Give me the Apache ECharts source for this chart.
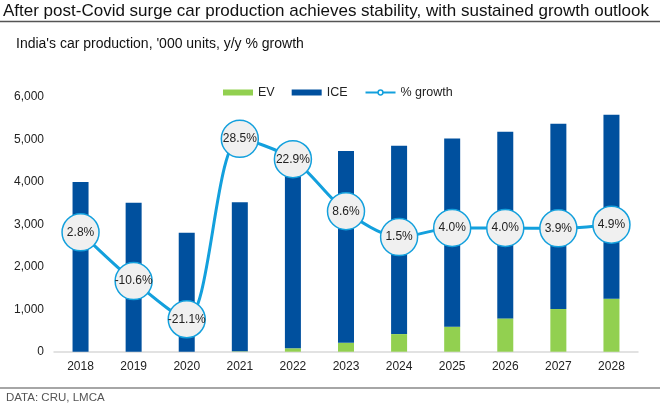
<!DOCTYPE html>
<html>
<head>
<meta charset="utf-8">
<script src="https://cdn.jsdelivr.net/npm/echarts@6/dist/echarts.min.js"></script>
<style>
html,body{margin:0;padding:0;background:#fff;}
#c{width:660px;height:406px;}
</style>
</head>
<body>
<div id="c"></div>
<script>
var years = ['2018','2019','2020','2021','2022','2023','2024','2025','2026','2027','2028'];
var evValues = [0, 0, 0, 10, 80, 210, 415, 590, 785, 1005, 1250];
var iceValues = [4000, 3510, 2800, 3510, 4250, 4520, 4435, 4430, 4395, 4365, 4330];
var growthValues = [2.8, -10.6, -21.1, 28.5, 22.9, 8.6, 1.5, 4.0, 4.0, 3.9, 4.9];
var yTicks = [0, 1000, 2000, 3000, 4000, 5000, 6000];

var FONT = 'Liberation Sans, Arial, sans-serif';
var chart = echarts.init(document.getElementById('c'));
chart.setOption({
  animation: false,
  backgroundColor: '#fff',
  textStyle: {fontFamily: FONT},
  title: [
    {text: 'After post-Covid surge car production achieves stability, with sustained growth outlook',
     left: 3, top: 3, padding: 0, textStyle: {fontFamily: FONT, fontSize: 17, fontWeight: 'normal', color: '#111'}},
    {text: "India's car production, '000 units, y/y % growth",
     left: 16, top: 37, padding: 0, textStyle: {fontFamily: FONT, fontSize: 14, fontWeight: 'normal', color: '#111'}},
    {text: 'DATA: CRU, LMCA',
     left: 6, top: 391.5, padding: 0, textStyle: {fontFamily: FONT, fontSize: 11.5, fontWeight: 'normal', color: '#555'}}
  ],
  graphic: [
    {type: 'line', shape: {x1: 0, y1: 21.5, x2: 660, y2: 21.5}, style: {stroke: '#555', lineWidth: 1.5}},
    {type: 'line', shape: {x1: 0, y1: 388, x2: 660, y2: 388}, style: {stroke: '#888', lineWidth: 1.5}}
  ],
  legend: {
    left: 223, top: 86, padding: 0,
    itemWidth: 30, itemHeight: 6, itemGap: 17,
    textStyle: {fontFamily: FONT, fontSize: 12.5, color: '#222'},
    data: [
      {name: 'EV', icon: 'rect'},
      {name: 'ICE', icon: 'rect'},
      {name: '% growth', itemStyle: {color: '#ffffff', borderColor: '#13a0dd', borderWidth: 1.5}}
    ]
  },
  grid: {left: 54, right: 22, top: 97, bottom: 54.3},
  xAxis: {
    type: 'category', data: years,
    axisLine: {lineStyle: {color: '#d9d9d9', width: 1.5}},
    axisTick: {show: false},
    axisLabel: {fontFamily: FONT, fontSize: 12, color: '#222', margin: 9}
  },
  yAxis: [
    {type: 'value', min: yTicks[0], max: yTicks[yTicks.length-1], interval: 1000,
     splitLine: {show: false}, axisLine: {show: false}, axisTick: {show: false},
     axisLabel: {fontFamily: FONT, fontSize: 12, color: '#222', margin: 10,
       formatter: function(v){return v.toLocaleString('en-US');}}},
    {type: 'value', min: -30, max: 40, show: false, splitLine: {show: false}}
  ],
  series: [
    {name: 'EV', type: 'bar', stack: 'p', data: evValues, barWidth: 16,
     itemStyle: {color: '#92d050'}},
    {name: 'ICE', type: 'bar', stack: 'p', data: iceValues, barWidth: 16,
     itemStyle: {color: '#00509e'}},
    {name: '% growth', type: 'line', yAxisIndex: 1, data: growthValues, smooth: 0.3,
     symbol: 'circle', symbolSize: 37, z: 5,
     lineStyle: {color: '#13a0dd', width: 3},
     itemStyle: {color: '#f0f0f0', borderColor: '#13a0dd', borderWidth: 1.5},
     label: {show: true, position: 'inside', fontFamily: FONT, fontSize: 12, color: '#222',
       formatter: function(p){return p.value.toFixed(1) + '%';}}}
  ]
});
</script>
</body>
</html>
